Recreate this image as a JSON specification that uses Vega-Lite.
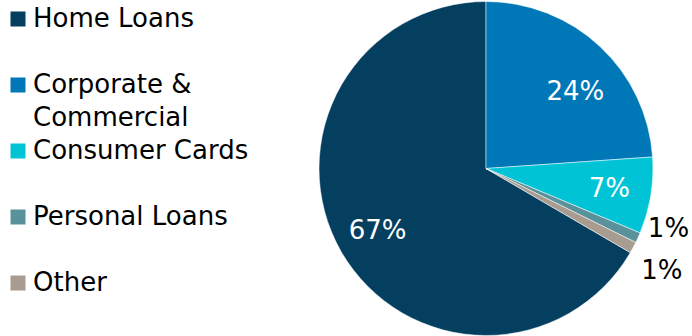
{
  "$schema": "https://vega.github.io/schema/vega-lite/v6.json",
  "width": 336,
  "height": 335,
  "autosize": "none",
  "padding": {"left": 318, "top": 1, "right": 38, "bottom": 0},
  "background": "white",
  "config": {
    "view": {"stroke": null},
    "font": "DejaVu Sans",
    "style": {"guide-label": {"lineHeight": 33}}
  },
  "data": {"values": [
    {"segment": "Home Loans", "share": 66.6, "label": "67%", "rank": 5},
    {"segment": "Corporate & Commercial", "share": 23.9, "label": "24%", "rank": 1},
    {"segment": "Consumer Cards", "share": 7.4, "label": "7%", "rank": 2},
    {"segment": "Personal Loans", "share": 1.0, "label": "1%", "rank": 3},
    {"segment": "Other", "share": 1.1, "label": "1%", "rank": 4}
  ]},
  "encoding": {
    "theta": {"field": "share", "type": "quantitative", "stack": true},
    "order": {"field": "rank", "type": "quantitative"}
  },
  "layer": [
    {
      "mark": {"type": "arc", "outerRadius": 167, "stroke": "white", "strokeWidth": 0.5},
      "encoding": {
        "color": {
          "field": "segment",
          "type": "nominal",
          "scale": {
            "domain": ["Home Loans", "Corporate & Commercial", "Consumer Cards", "Personal Loans", "Other"],
            "range": ["#053F60", "#0077B6", "#00C4D6", "#5A929C", "#A89C90"]
          },
          "legend": {
            "title": null,
            "orient": "none",
            "legendX": -313,
            "legendY": 5,
            "padding": 0,
            "symbolType": "square",
            "symbolSize": 225,
            "symbolStrokeWidth": 0,
            "labelFont": "DejaVu Sans",
            "labelFontSize": 26,
            "labelColor": "black",
            "labelOffset": 2,
            "labelLimit": 300,
            "rowPadding": 7,
            "labelExpr": "datum.label == 'Corporate & Commercial' ? ['Corporate &', 'Commercial'] : [datum.label, '']"
          }
        }
      }
    },
    {
      "mark": {"type": "text", "radius": 125, "fontSize": 26, "font": "DejaVu Sans", "fill": "white"},
      "encoding": {
        "text": {"condition": {"test": "datum.share > 5 && datum.segment != 'Corporate & Commercial'", "field": "label"}, "value": ""}
      }
    },
    {
      "mark": {"type": "text", "radius": 125, "fontSize": 26, "font": "DejaVu Sans", "fill": "white", "dx": 4, "dy": 15},
      "encoding": {
        "text": {"condition": {"test": "datum.segment == 'Corporate & Commercial'", "field": "label"}, "value": ""}
      }
    },
    {
      "mark": {"type": "text", "radius": 195, "fontSize": 26, "font": "DejaVu Sans", "fill": "black", "dx": 5, "dy": -20},
      "encoding": {
        "text": {"condition": {"test": "datum.segment == 'Personal Loans'", "field": "label"}, "value": ""}
      }
    },
    {
      "mark": {"type": "text", "radius": 195, "fontSize": 26, "font": "DejaVu Sans", "fill": "black", "dx": 4, "dy": 10},
      "encoding": {
        "text": {"condition": {"test": "datum.segment == 'Other'", "field": "label"}, "value": ""}
      }
    }
  ]
}
